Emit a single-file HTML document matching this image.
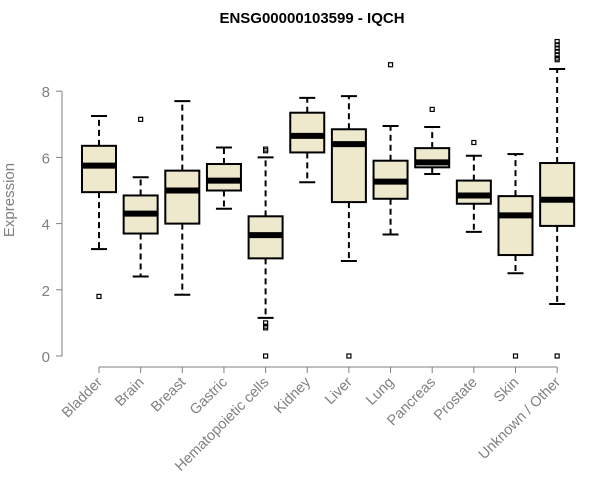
<!DOCTYPE html>
<html><head><meta charset="utf-8"><style>
body{margin:0;background:#fff;}
svg{display:block;font-family:"Liberation Sans",Arial,sans-serif;}
</style></head><body>
<svg id="chart" width="600" height="500">
<text x="312" y="23" text-anchor="middle" font-weight="bold" font-size="15">ENSG00000103599 - IQCH</text>
<text transform="translate(14,200) rotate(-90)" text-anchor="middle" font-size="15" fill="#808080">Expression</text>
<g id="yaxis"></g>
<g id="xaxis"></g>
<g id="boxes"></g>
</svg>
<script>
const categories=["Bladder","Brain","Breast","Gastric","Hematopoietic cells","Kidney","Liver","Lung","Pancreas","Prostate","Skin","Unknown / Other"];
const whiskerLow=[3.23,2.4,1.85,4.45,1.15,5.25,2.87,3.67,5.5,3.75,2.5,1.57];
const q1=[4.95,3.7,4.0,5.0,2.95,6.15,4.65,4.75,5.7,4.6,3.05,3.93];
const medians=[5.75,4.3,5.0,5.3,3.65,6.65,6.4,5.27,5.85,4.85,4.25,4.72];
const q3=[6.35,4.85,5.6,5.8,4.22,7.35,6.85,5.9,6.28,5.3,4.83,5.83];
const whiskerHigh=[7.25,5.4,7.7,6.3,6.0,7.8,7.85,6.95,6.92,6.05,6.1,8.67];
const outliers=[[1.8],[7.15],[],[],[6.2,6.25,1.0,0.9,0.85,0],[],[0],[8.8],[7.45],[6.45],[0],[9.5,9.4,9.3,9.2,9.1,9.0,8.95,0]];
const yTicks=[0,2,4,6,8];
const NS="http://www.w3.org/2000/svg";
const y=v=>356-v*33.1;
const x=i=>99+i*41.65;
function mk(tag,attrs,parent){const e=document.createElementNS(NS,tag);for(const k in attrs)e.setAttribute(k,attrs[k]);parent.appendChild(e);return e;}
const ya=document.getElementById('yaxis'),xa=document.getElementById('xaxis'),bx=document.getElementById('boxes');
mk('line',{x1:62,x2:62,y1:y(8),y2:y(0),stroke:'#808080'},ya);
yTicks.forEach(t=>{
 mk('line',{x1:56,x2:62,y1:y(t),y2:y(t),stroke:'#808080'},ya);
 const tx=mk('text',{x:50,y:y(t)+6,'text-anchor':'end','font-size':15,fill:'#808080'},ya);
 tx.textContent=t;
 
 
});
mk('line',{x1:x(0),x2:x(11),y1:367,y2:367,stroke:'#808080'},xa);
categories.forEach((c,i)=>{
 mk('line',{x1:x(i),x2:x(i),y1:367,y2:373,stroke:'#808080'},xa);
 const tx=mk('text',{transform:`translate(${x(i)+4},${383}) rotate(-45)`,'text-anchor':'end','font-size':14.5,fill:'#808080'},xa);
 tx.textContent=c;
 
 
 const g=mk('g',{},bx);
 
 
 const cx=x(i),hw=17,cw=8;
 mk('line',{x1:cx,x2:cx,y1:y(q3[i]),y2:y(whiskerHigh[i]),stroke:'#000','stroke-width':2,'stroke-dasharray':'6,4'},g);
 mk('line',{x1:cx,x2:cx,y1:y(q1[i]),y2:y(whiskerLow[i]),stroke:'#000','stroke-width':2,'stroke-dasharray':'6,4'},g);
 mk('line',{x1:cx-cw,x2:cx+cw,y1:y(whiskerHigh[i]),y2:y(whiskerHigh[i]),stroke:'#000','stroke-width':2},g);
 mk('line',{x1:cx-cw,x2:cx+cw,y1:y(whiskerLow[i]),y2:y(whiskerLow[i]),stroke:'#000','stroke-width':2},g);
 mk('rect',{x:cx-hw,y:y(q3[i]),width:2*hw,height:y(q1[i])-y(q3[i]),fill:'#EEE8CD',stroke:'#000','stroke-width':2},g);
 mk('line',{x1:cx-hw,x2:cx+hw,y1:y(medians[i]),y2:y(medians[i]),stroke:'#000','stroke-width':6},g);
 outliers[i].forEach(o=>{mk('rect',{x:cx-2,y:y(o)-2,width:4,height:4,fill:'none',stroke:'#000','stroke-width':1.2},g);});
});
</script>
</body></html>
